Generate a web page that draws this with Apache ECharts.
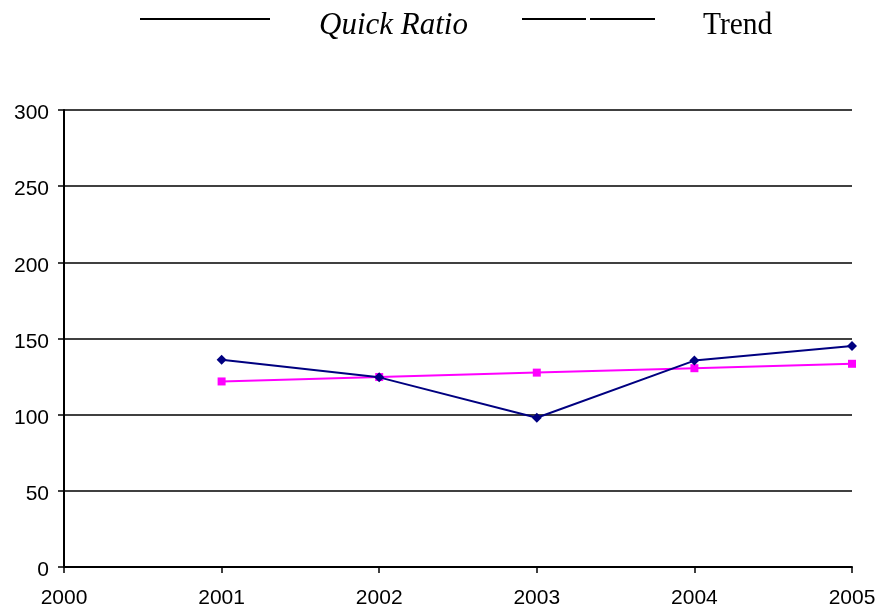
<!DOCTYPE html>
<html>
<head>
<meta charset="utf-8">
<script src="https://cdn.jsdelivr.net/npm/echarts@6/dist/echarts.min.js"></script>
<style>
  html, body { margin: 0; padding: 0; background: #fff; }
  #chart { width: 880px; height: 613px; }
</style>
</head>
<body>
<div id="chart"></div>
<script>
// Years on the horizontal axis
const years = [2001, 2002, 2003, 2004, 2005];
// Quick ratio per year
const quickRatio = [136, 124.5, 98, 135.5, 145];
// Linear trend of the quick ratio
const trend = [121.8, 124.7, 127.6, 130.5, 133.4];

const seriesNames = ['Quick Ratio', 'Trend'];

const chart = echarts.init(document.getElementById('chart'));

const axisFont = { fontFamily: 'Liberation Sans, Arial, sans-serif', fontSize: 21, color: '#000' };
const serif = 'Liberation Serif, Times New Roman, serif';

chart.setOption({
  animation: false,
  backgroundColor: '#fff',
  grid: { left: 64, right: 28, top: 110, bottom: 46, containLabel: false },
  xAxis: {
    type: 'value',
    min: 2000,
    max: 2005,
    interval: 1,
    axisLine: { show: true, lineStyle: { color: '#000', width: 2 } },
    axisTick: { show: true, length: 6, lineStyle: { color: '#000', width: 1.5 } },
    axisLabel: Object.assign({ margin: 21, formatter: v => String(v) }, axisFont),
    splitLine: { show: false }
  },
  yAxis: {
    type: 'value',
    min: 0,
    max: 300,
    interval: 50,
    axisLine: { show: true, lineStyle: { color: '#000', width: 2 } },
    axisTick: { show: true, length: 6, lineStyle: { color: '#000', width: 1.5 } },
    axisLabel: Object.assign({ margin: 15, lineHeight: 27, verticalAlign: 'top', padding: [-10, 0, 0, 0] }, axisFont),
    splitLine: { show: true, lineStyle: { color: '#000', width: 1.5 } }
  },
  graphic: [
    // legend: solid line + label
    { type: 'line', shape: { x1: 140, y1: 19, x2: 270, y2: 19 }, style: { stroke: '#000', lineWidth: 2 } },
    { type: 'text', x: 319, y: 26, style: { text: seriesNames[0], fontFamily: serif, fontStyle: 'italic', fontSize: 31, fill: '#000', verticalAlign: 'middle' } },
    // legend: broken line + label
    { type: 'line', shape: { x1: 522, y1: 19, x2: 586, y2: 19 }, style: { stroke: '#000', lineWidth: 2 } },
    { type: 'line', shape: { x1: 590, y1: 19, x2: 655, y2: 19 }, style: { stroke: '#000', lineWidth: 2 } },
    { type: 'text', x: 703, y: 26, scaleX: 0.95, style: { text: seriesNames[1], fontFamily: serif, fontSize: 31, fill: '#000', verticalAlign: 'middle' } }
  ],
  series: [
    {
      name: seriesNames[0],
      type: 'line',
      data: years.map((y, i) => [y, quickRatio[i]]),
      symbol: 'diamond',
      symbolSize: 10,
      lineStyle: { color: '#000080', width: 2 },
      itemStyle: { color: '#000080' },
      z: 3
    },
    {
      name: seriesNames[1],
      type: 'line',
      data: years.map((y, i) => [y, trend[i]]),
      symbol: 'rect',
      symbolSize: 8,
      lineStyle: { color: '#ff00ff', width: 2 },
      itemStyle: { color: '#ff00ff' },
      z: 2
    }
  ]
});
</script>
</body>
</html>
